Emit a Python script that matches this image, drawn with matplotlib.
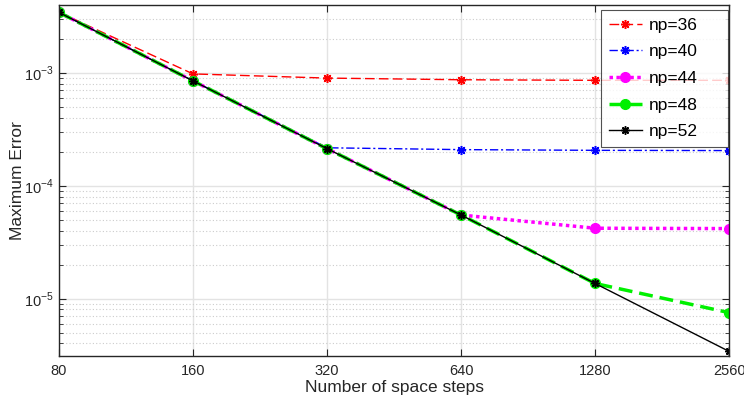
import matplotlib
matplotlib.use("Agg")
import matplotlib.pyplot as plt
from matplotlib.ticker import FixedLocator, LogLocator, NullFormatter

plt.rcParams['font.family'] = ['Liberation Sans', 'DejaVu Sans']
plt.rcParams['mathtext.fontset'] = 'custom'
plt.rcParams['mathtext.rm'] = 'Liberation Sans'

# data
steps = [80, 160, 320, 640, 1280, 2560]
tick_labels = ['80', '160', '320', '640', '1280', '2560']
err_np36 = [3.44e-3, 9.8e-4, 9.0e-4, 8.7e-4, 8.6e-4, 8.6e-4]
err_np40 = [3.44e-3, 8.5e-4, 2.17e-4, 2.09e-4, 2.06e-4, 2.05e-4]
err_np44 = [3.44e-3, 8.5e-4, 2.13e-4, 5.5e-5, 4.2e-5, 4.17e-5]
err_np48 = [3.44e-3, 8.5e-4, 2.13e-4, 5.5e-5, 1.36e-5, 7.5e-6]
err_np52 = [3.44e-3, 8.5e-4, 2.13e-4, 5.5e-5, 1.36e-5, 3.4e-6]

fig = plt.figure(figsize=(7.44, 4.04), dpi=100)
ax = fig.add_axes([0.0793, 0.119, 0.9007, 0.8686])

star = (8, 2, 0)  # matlab-like asterisk
ax.plot(steps, err_np36, color='red', ls=(0, (7, 3)), lw=1, marker=star, ms=6.5, mew=1.1, label='np=36')
ax.plot(steps, err_np40, color='blue', ls=(0, (6, 2, 1.5, 2)), lw=1, marker=star, ms=6.5, mew=1.1, label='np=40')
ax.plot(steps, err_np44, color='magenta', ls=(0, (1, 1)), lw=2.5, marker='o', ms=7, label='np=44')
ax.plot(steps, err_np48, color='#00f000', ls=(0, (4, 2)), lw=2.5, marker='o', ms=7, label='np=48')
ax.plot(steps, err_np52, color='black', ls='-', lw=1, marker=star, ms=6, mew=1.1, label='np=52')

ax.set_xscale('log', base=2)
ax.set_yscale('log')
ax.set_xlim(80, 2560)
ax.set_ylim(3.1e-6, 4.0e-3)

ax.xaxis.set_major_locator(FixedLocator(steps))
ax.set_xticklabels(tick_labels)
ax.xaxis.set_minor_locator(FixedLocator([]))
ax.yaxis.set_major_locator(FixedLocator([1e-5, 1e-4, 1e-3]))
ax.set_yticklabels([r'$10^{-5}$', r'$10^{-4}$', r'$10^{-3}$'])
ax.yaxis.set_minor_locator(LogLocator(base=10, subs=range(2, 10)))
ax.yaxis.set_minor_formatter(NullFormatter())

ax.tick_params(which='both', direction='in', top=True, right=True, labelsize=10.5, colors='#262626')
ax.tick_params(which='major', length=5)
ax.tick_params(which='minor', length=3)
ax.tick_params(axis='x', pad=6)

# grid: solid light major, dotted minor
ax.grid(True, which='major', color='#e3e3e3', lw=1, ls='-')
ax.grid(True, which='minor', axis='y', color='#cccccc', lw=0.8, ls=(0, (1, 2)))
ax.set_axisbelow(True)

for s in ax.spines.values():
    s.set_color('#262626')
    s.set_linewidth(1)

ax.set_xlabel('Number of space steps', fontsize=12.5, color='#262626', labelpad=1)
ax.set_ylabel('Maximum Error', fontsize=12.5, color='#262626')
ax.yaxis.set_label_coords(-0.051, 0.5)

# legend box stretched to the reference width
leg = ax.legend(loc='upper left', mode='expand', fontsize=12.5, frameon=True, fancybox=False,
                edgecolor='#262626', handlelength=1.9, borderpad=0.45,
                labelspacing=0.66, handletextpad=0.4, borderaxespad=0,
                bbox_to_anchor=(0.809, 0.0, 0.1896, 0.986))
leg.get_frame().set_linewidth(0.8)

fig.savefig('out.png', dpi=100)
